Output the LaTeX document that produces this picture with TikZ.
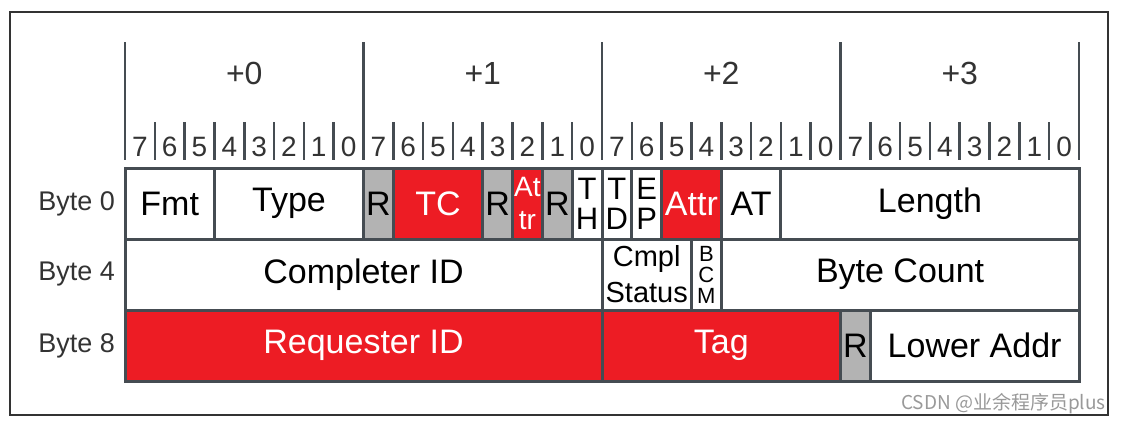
\documentclass[tikz,border=0pt]{standalone}
\usepackage{fontspec}
\setmainfont{Liberation Sans}
\newfontfamily\cjkfont{Noto Sans CJK SC}
\definecolor{tred}{HTML}{ED1C24}
\definecolor{tgray}{HTML}{B3B3B3}
\definecolor{tline}{HTML}{454C52}
\definecolor{ttext}{HTML}{333333}
\tikzset{
  hdrline/.style={line width=2.6pt, draw=tline},
  cell/.style={draw=tline, line width=3pt, inner sep=0pt, minimum height=71pt,
               font=\fontsize{34}{36}\selectfont},
  wf/.style={cell, fill=white, text=black},
  rf/.style={cell, fill=tred, text=white},
  gf/.style={cell, fill=tgray, text=black},
  stk/.style={align=center, font=\fontsize{31}{30}\selectfont},
  stka/.style={align=center, font=\fontsize{28}{33}\selectfont},
  tiny/.style={align=center, font=\fontsize{22}{21}\selectfont},
  twol/.style={align=center, font=\fontsize{29}{36}\selectfont},
  bitnum/.style={text=ttext, font=\fontsize{28}{30}\selectfont, inner sep=0pt},
  bytenum/.style={text=ttext, font=\fontsize{32}{34}\selectfont, inner sep=0pt},
  rowlbl/.style={text=ttext, font=\fontsize{27}{30}\selectfont, anchor=east, inner sep=0pt},
}
% #1 name, #2 first bit, #3 end bit, #4 row, #5 style, #6 text
\newcommand\fld[6]{%
  \node[#5, minimum width={(#3-#2)*29.8125pt}] (#1)
    at ({125+(#2+#3)/2*29.8125}, {168+(#4+0.5)*71}) {#6};}
\begin{document}
\begin{tikzpicture}[x=1pt,y=-1pt]
\useasboundingbox (0,0) rectangle (1122,424);
\fill[white] (0,0) rectangle (1122,424);
\draw[line width=1.3pt, draw=ttext] (10,12) rectangle (1108,415);
% header
\foreach \k in {0,...,4}
  \draw[hdrline] ({125+\k*238.5},42) -- ({125+\k*238.5},160);
\foreach \b in {0,...,32}
  \draw[hdrline] ({125+\b*29.8125},122) -- ({125+\b*29.8125},160);
\foreach \k in {0,...,3}
  \node[bytenum] (byte\k) at ({125+(\k+0.5)*238.5},73) {+\k};
\foreach \b in {0,...,31}{
  \pgfmathtruncatemacro\d{7-mod(\b,8)}
  \node[bitnum] (bit\b) at ({125+(\b+0.5)*29.8125},147) {\d};
}
% row 0
\fld{fmt}{0}{3}{0}{wf}{Fmt}
\fld{type}{3}{8}{0}{wf}{Type}
\fld{r1}{8}{9}{0}{gf}{R}
\fld{tc}{9}{12}{0}{rf}{TC}
\fld{r2}{12}{13}{0}{gf}{R}
\fld{attr1}{13}{14}{0}{rf,stka}{At\\tr}
\fld{r3}{14}{15}{0}{gf}{R}
\fld{th}{15}{16}{0}{wf,stk}{T\\H}
\fld{td}{16}{17}{0}{wf,stk}{T\\D}
\fld{ep}{17}{18}{0}{wf,stk}{E\\P}
\fld{attr2}{18}{20}{0}{rf}{Attr}
\fld{at}{20}{22}{0}{wf}{AT}
\fld{len}{22}{32}{0}{wf}{Length}
% row 1
\fld{cid}{0}{16}{1}{wf}{Completer ID}
\fld{cst}{16}{19}{1}{wf,twol}{Cmpl\\Status}
\fld{bcm}{19}{20}{1}{wf,tiny}{B\\C\\M}
\fld{bc}{20}{32}{1}{wf}{Byte Count}
% row 2
\fld{rid}{0}{16}{2}{rf}{Requester ID}
\fld{tag}{16}{24}{2}{rf}{Tag}
\fld{r4}{24}{25}{2}{gf}{R}
\fld{la}{25}{32}{2}{wf}{Lower Addr}
% row labels
\node[rowlbl] (l0) at (115,203.5) {Byte 0};
\node[rowlbl] (l1) at (115,274.5) {Byte 4};
\node[rowlbl] (l2) at (115,345.5) {Byte 8};
% watermark
\node[anchor=east, inner sep=0pt, text=black!40, font=\fontsize{19}{21}\selectfont]
  (wm) at (1106,404) {\cjkfont CSDN @业余程序员plus};
\end{tikzpicture}
\end{document}
